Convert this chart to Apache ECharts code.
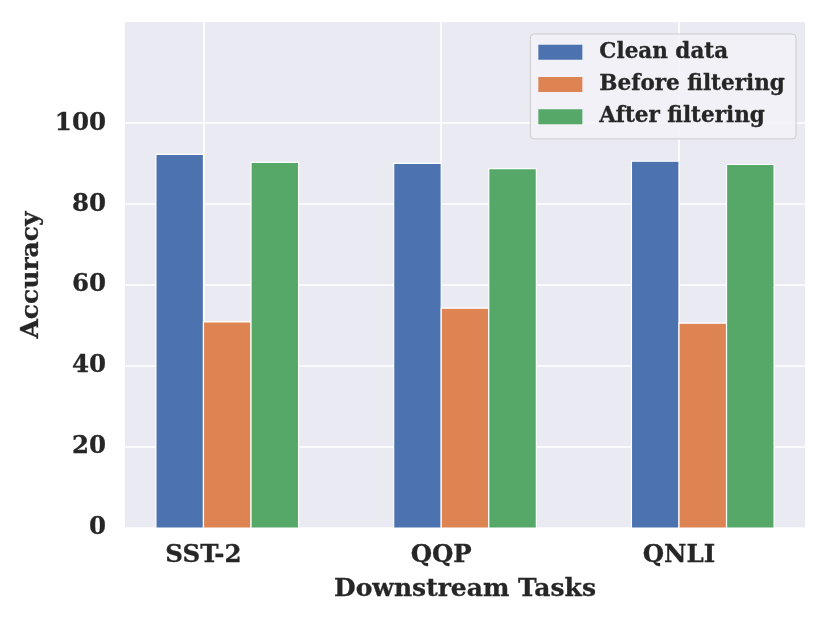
<!DOCTYPE html>
<html><head><meta charset="utf-8">
<script src="https://cdn.jsdelivr.net/npm/echarts@6/dist/echarts.min.js"></script>
<style>html,body{margin:0;padding:0;background:#fff}#c{width:830px;height:623px}</style>
</head><body><div id="c"></div>
<script>
const categories = ['SST-2', 'QQP', 'QNLI'];
const seriesNames = ['Clean data', 'Before filtering', 'After filtering'];
const cleanData = [92.3, 90.1, 90.6];
const beforeFiltering = [50.9, 54.3, 50.6];
const afterFiltering = [90.3, 88.8, 89.8];
const yTicks = [0, 20, 40, 60, 80, 100];
const colors = ['#4c72b0', '#dd8452', '#55a868'];
const FONT = 'DejaVu Serif';
const allValues = [cleanData, beforeFiltering, afterFiltering];
const offsets = [-0.1, 0.1, 0.3];
const barW = 0.2;

const chart = echarts.init(document.getElementById('c'), null, {renderer: 'canvas'});
const series = allValues.map((vals, si) => ({
  type: 'custom',
  name: seriesNames[si],
  itemStyle: {color: colors[si]},
  data: vals.map((v, i) => [i + offsets[si], v]),
  renderItem: function (params, api) {
    const x = api.value(0), y = api.value(1);
    const p0 = api.coord([x - barW / 2, y]);
    const p1 = api.coord([x + barW / 2, 0]);
    return {
      type: 'rect',
      shape: {x: p0[0], y: p0[1], width: p1[0] - p0[0], height: p1[1] - p0[1]},
      style: {fill: colors[si], stroke: '#ffffff', lineWidth: 1.2}
    };
  },
  encode: {x: 0, y: 1}
}));

const txt = {fontFamily: FONT, fontWeight: 'bold', color: '#262626', textBorderColor: '#262626', textBorderWidth: 0.3};

chart.setOption({
  animation: false,
  backgroundColor: '#ffffff',
  grid: {left: 125, right: 25, top: 22, bottom: 95, show: true, backgroundColor: '#eaeaf2', borderWidth: 0},
  legend: {
    right: 34, top: 34,
    orient: 'vertical',
    data: seriesNames.map((n, i) => ({name: n, icon: 'rect', itemStyle: {color: colors[i]}})),
    itemWidth: 44, itemHeight: 15, itemGap: 10,
    padding: [7, 11, 11, 8],
    backgroundColor: 'rgba(242,242,247,0.9)',
    borderColor: '#cccccc', borderWidth: 1, borderRadius: 4,
    textStyle: Object.assign({}, txt, {fontSize: 21.5, lineHeight: 22, padding: [0, 0, 0, 12]})
  },
  xAxis: {
    type: 'value', min: -0.33, max: 2.53,
    name: 'Downstream Tasks', nameLocation: 'middle', nameGap: 49,
    nameTextStyle: Object.assign({}, txt, {fontSize: 25}),
    axisLine: {show: false},
    axisTick: {show: false, customValues: [0, 1, 2]},
    axisLabel: Object.assign({customValues: [0, 1, 2], formatter: v => categories[Math.round(v)] || '', margin: 15}, txt, {fontSize: 24.5}),
    splitLine: {show: true, lineStyle: {color: '#ffffff', width: 1.6}}
  },
  yAxis: {
    type: 'value', min: 0, max: 125,
    name: 'Accuracy', nameLocation: 'middle', nameGap: 75, nameRotate: 90,
    nameTextStyle: Object.assign({}, txt, {fontSize: 25}),
    axisLine: {show: false},
    axisTick: {show: false, customValues: yTicks},
    axisLabel: Object.assign({customValues: yTicks, margin: 19, padding: [5, 0, 0, 0]}, txt, {fontSize: 24.5}),
    splitLine: {show: true, lineStyle: {color: '#ffffff', width: 1.6}}
  },
  series: series
});
</script></body></html>
